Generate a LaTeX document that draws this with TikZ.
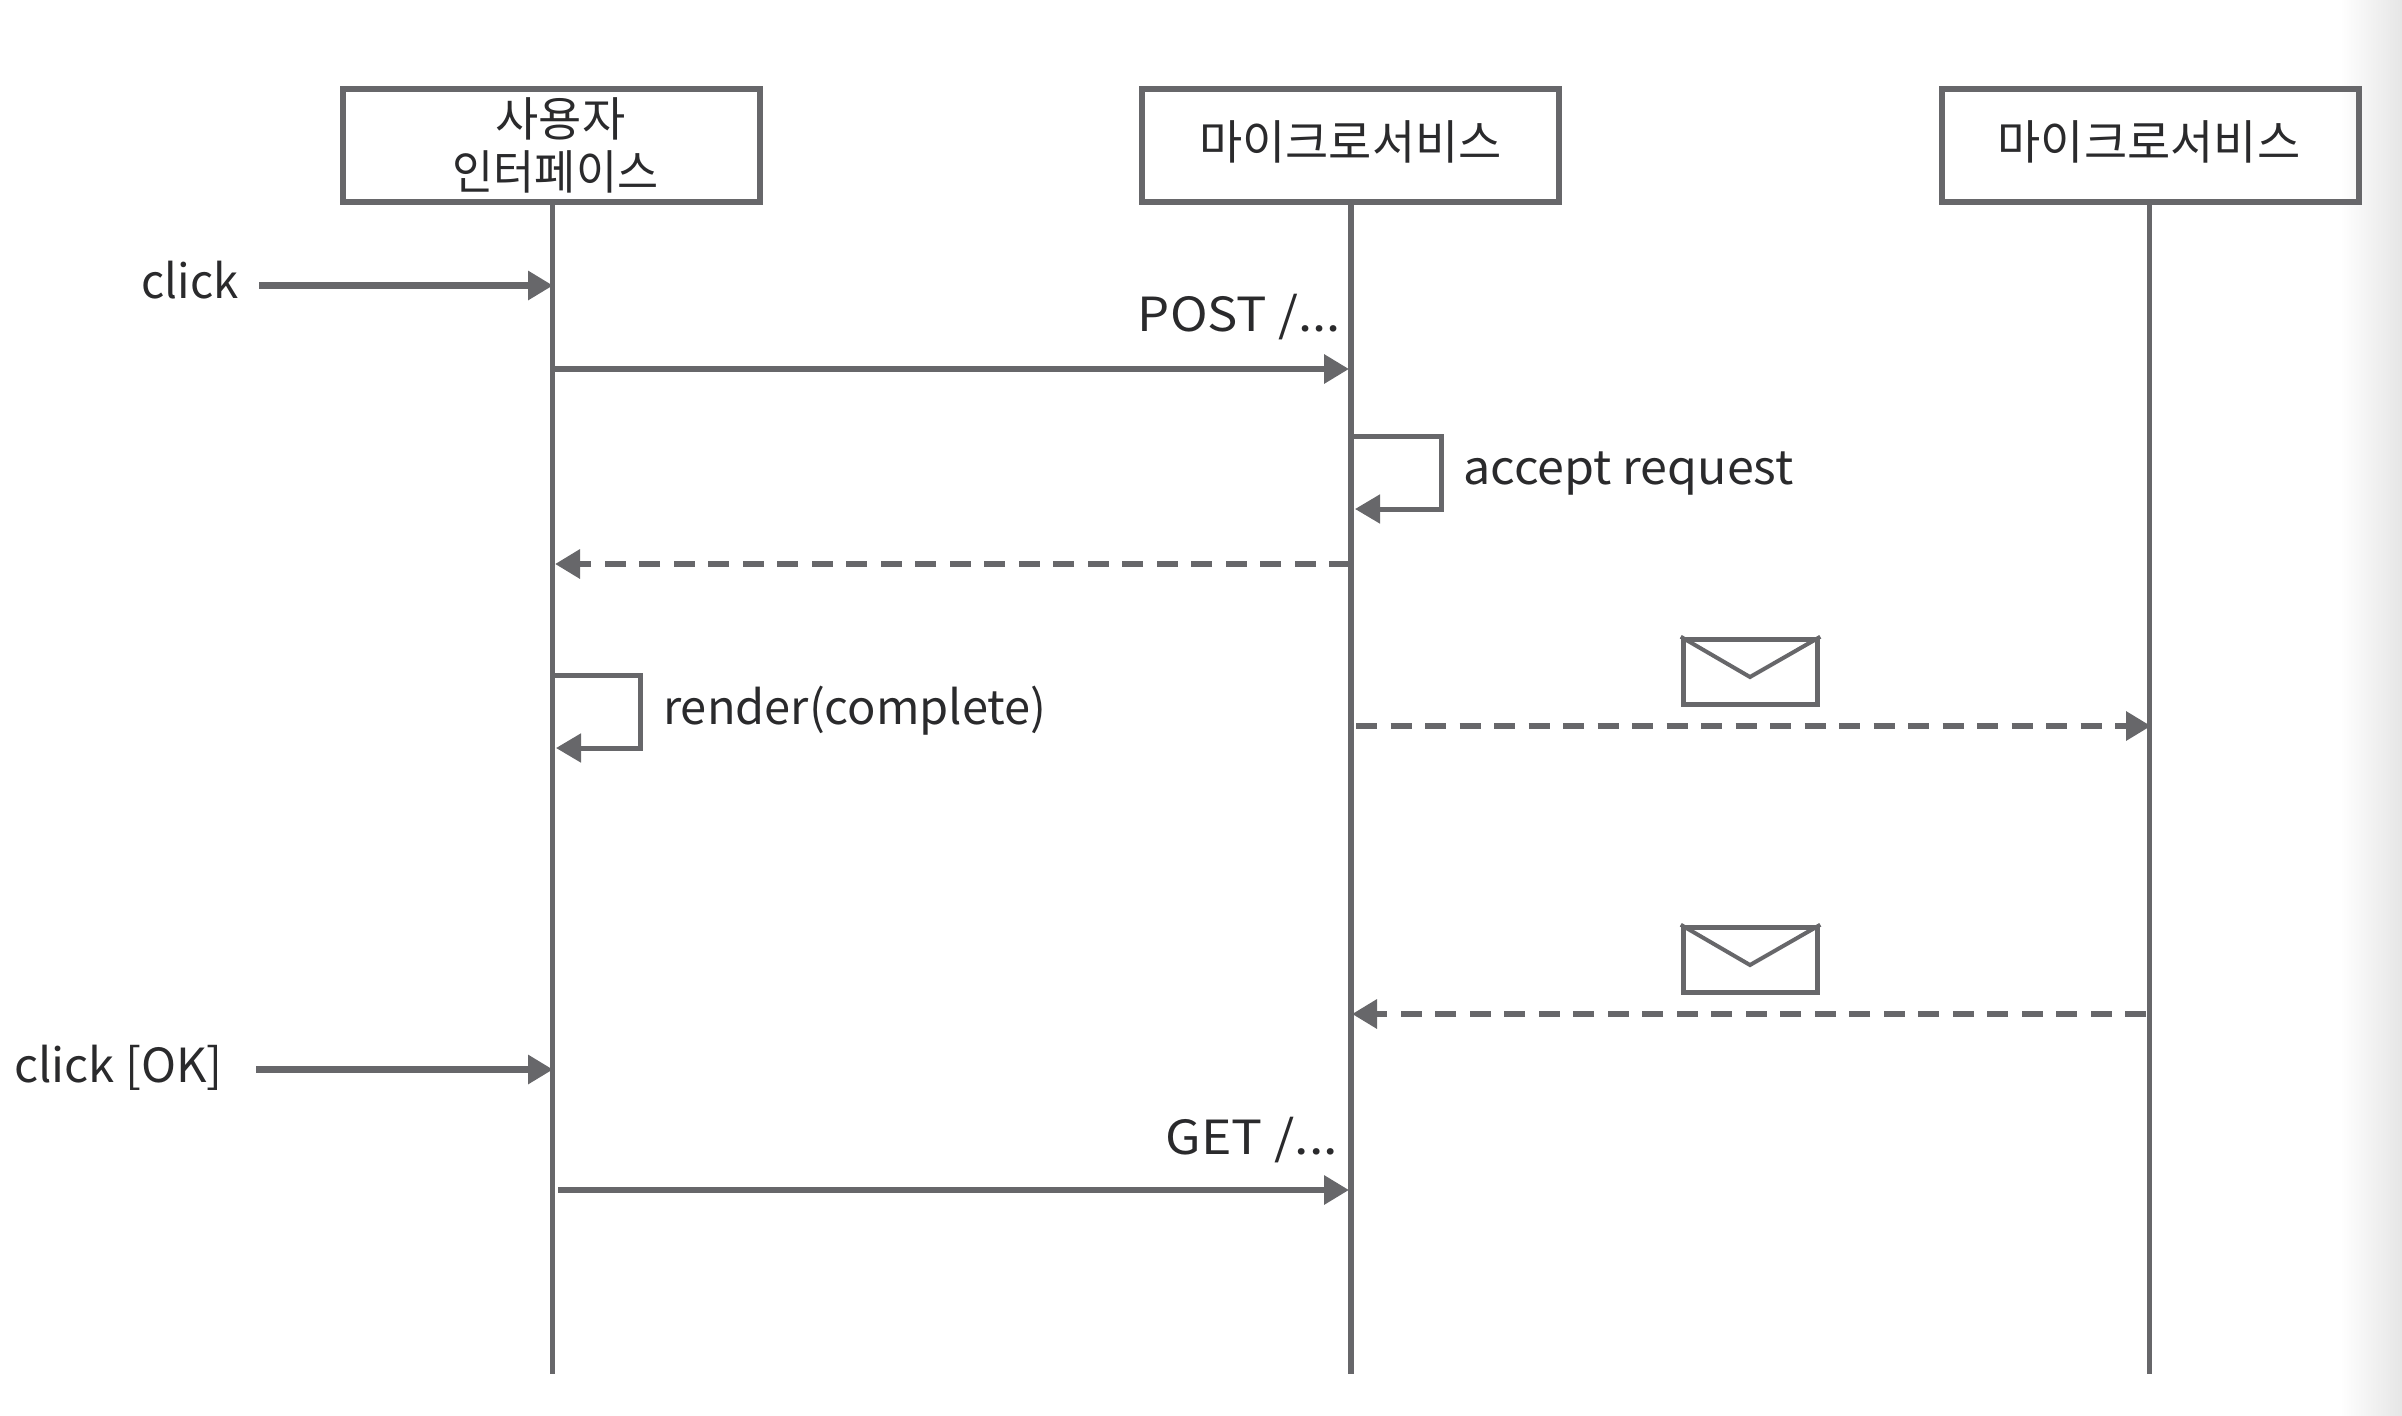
\documentclass[tikz,border=0pt]{standalone}
\usepackage{fontspec}
\setmainfont{Noto Sans CJK KR}
\usetikzlibrary{arrows.meta,calc}
\definecolor{ink}{HTML}{67676A}
\definecolor{txt}{HTML}{2A2A2C}
\tikzset{
  x=1pt,y=-1pt,
  boxn/.style={draw=ink,line width=5.5pt,minimum width=417pt,minimum height=113pt,inner sep=0pt,align=center,text=txt,font=\fontsize{47}{53}\selectfont},
  life/.style={draw=ink,line width=5.5pt},
  msg/.style={draw=ink,line width=6.5pt,-{Triangle[length=25pt,width=28pt,fill=ink]}},
  msgd/.style={msg,dash pattern=on 21pt off 13.5pt},
  lab/.style={text=txt,inner sep=0pt,font=\fontsize{47}{53}\selectfont},
  env/.style={draw=ink,line width=5.5pt,minimum width=134pt,minimum height=65pt,inner sep=0pt},
  flap/.style={draw=ink,line width=4pt,line join=miter},
}
\begin{document}
\begin{tikzpicture}
\useasboundingbox (0,0) rectangle (2402,1416);
\shade[left color=white,right color=black!10,draw=none] (2340,0) rectangle (2402,1416);
% lifeline heads
\node[boxn] (ui) at (551.5,145.5) {\hspace*{18pt}사용자\\\hspace*{8pt}\scalebox{.95}[1]{인터페이스}};
\node[boxn] (ms1) at (1350.5,145.5) {\raisebox{10pt}{마이크로서비스}};
\node[boxn] (ms2) at (2150.5,145.5) {\raisebox{10pt}{마이크로서비스}\hspace*{3pt}};
% lifeline ends
\coordinate (uiEnd) at (552.5,1374);
\coordinate (ms1End) at (1351,1374);
\coordinate (ms2End) at (2149.5,1374);
\draw[life] (ui.south -| uiEnd) -- (uiEnd);
\draw[life] (ms1.south -| ms1End) -- (ms1End);
\draw[life] (ms2.south -| ms2End) -- (ms2End);
% click
\node[lab,anchor=east] (click) at (239,280) {\scalebox{.97}[1]{click}};
\coordinate (clickS) at (259,285.5);
\coordinate (clickT) at (553,285.5);
\draw[msg] (clickS) -- (clickT);
% POST
\node[lab,anchor=east] (post) at (1341,317) {\scalebox{1.08}[1]{POST /...}};
\coordinate (postS) at (554,369);
\coordinate (postT) at (1349,369);
\draw[msg] (postS) -- (postT);
% accept request
\node[lab,anchor=west] (accept) at (1463,474) {\scalebox{1.03}[1]{accept request}};
\coordinate (acS) at (1353,436);
\coordinate (acA) at (1441,436);
\coordinate (acB) at (1441,509);
\coordinate (acT) at (1355,509);
\draw[msg,line width=5pt] (acS) -- (acA) -- (acB) -- (acT);
% response
\coordinate (respS) at (1350,564);
\coordinate (respT) at (555,564);
\draw[msgd] (respS) -- (respT);
% render
\node[lab,anchor=west] (render) at (663,711) {render(complete)};
\coordinate (reS) at (554,675);
\coordinate (reA) at (640,675);
\coordinate (reB) at (640,748);
\coordinate (reT) at (556,748);
\draw[msg,line width=5pt] (reS) -- (reA) -- (reB) -- (reT);
% event out
\node[env] (envA) at (1750.5,672) {};
\coordinate (envAtip) at (1750,677);
\draw[flap] (envA.north west) -- (envAtip) -- (envA.north east);
\coordinate (evS) at (1356,726);
\coordinate (evT) at (2151,726);
\draw[msgd] (evS) -- (evT);
% event back
\node[env] (envB) at (1750.5,960) {};
\coordinate (envBtip) at (1750,965);
\draw[flap] (envB.north west) -- (envBtip) -- (envB.north east);
\coordinate (bkS) at (2146,1014);
\coordinate (bkT) at (1352,1014);
\draw[msgd] (bkS) -- (bkT);
% click OK
\node[lab,anchor=east] (clickok) at (223,1068) {\scalebox{1.005}[1]{click [OK]}};
\coordinate (okS) at (256,1069.5);
\coordinate (okT) at (553,1069.5);
\draw[msg] (okS) -- (okT);
% GET
\node[lab,anchor=east] (get) at (1338,1140) {\scalebox{1.1}[1]{GET /...}};
\coordinate (getS) at (558,1190);
\coordinate (getT) at (1349,1190);
\draw[msg] (getS) -- (getT);
\end{tikzpicture}
\end{document}
